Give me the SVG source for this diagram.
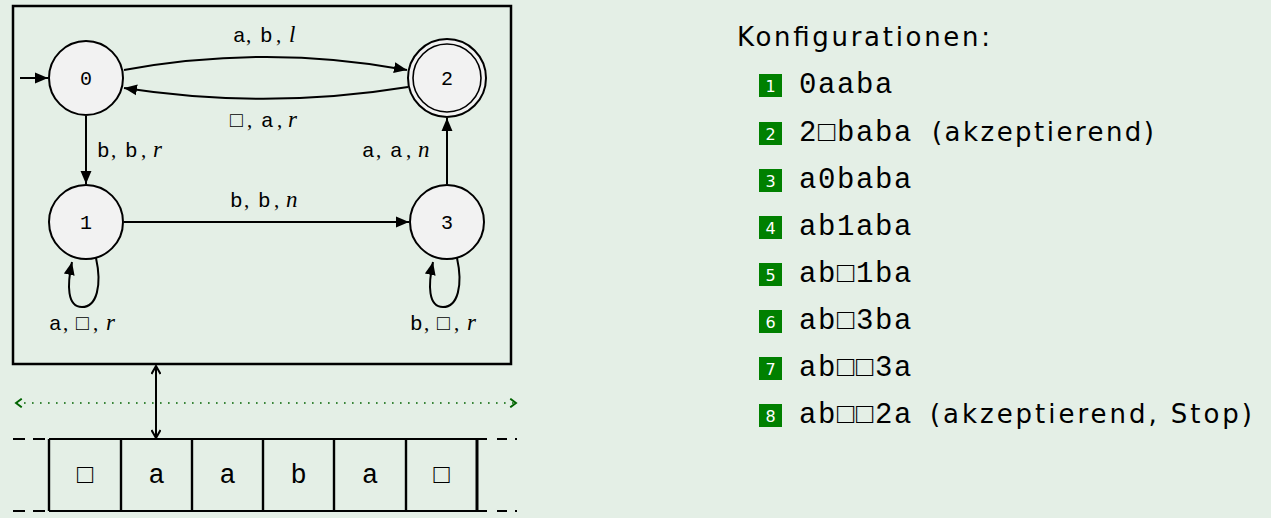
<svg xmlns="http://www.w3.org/2000/svg" width="1271" height="518" viewBox="0 0 1271 518">
<defs>
<style>
.st{fill:#f2f2f2;stroke:#000;stroke-width:2}
.ed{fill:none;stroke:#000;stroke-width:2}
.nl{font-family:"Liberation Mono","DejaVu Sans Mono",monospace;font-size:20px;text-anchor:middle}
.lb{font-family:"Liberation Serif",serif;font-size:21px}
.m{font-family:"Liberation Mono","DejaVu Sans Mono",monospace;font-size:21px}
.mi{font-family:"Liberation Serif",serif;font-style:italic;font-size:23px}
.tp{font-family:"Liberation Mono","DejaVu Sans Mono",monospace;font-size:27px;text-anchor:middle}
.cf{font-family:"Liberation Mono","DejaVu Sans Mono",monospace;font-size:29px;letter-spacing:1.6px}
.sf{font-family:"DejaVu Sans",sans-serif;font-size:26px}
.bn{font-family:"DejaVu Sans",sans-serif;font-size:16px;fill:#fff;text-anchor:middle}
.bl{fill:#008000}
</style>
<marker id="ah" viewBox="0 0 10 10" refX="10" refY="5" markerWidth="6.5" markerHeight="6.5" orient="auto" markerUnits="strokeWidth">
<path d="M0,0.8 L10,5 L0,9.2 Z" fill="#000"/>
</marker>
<marker id="hd" viewBox="0 0 10 10" refX="9" refY="5" markerWidth="5" markerHeight="5" orient="auto-start-reverse" markerUnits="strokeWidth">
<path d="M1,0.5 L9,5 L1,9.5" fill="none" stroke="#000" stroke-width="2"/>
</marker>
<marker id="gh" viewBox="0 0 10 10" refX="8" refY="5" markerWidth="6" markerHeight="6" orient="auto-start-reverse" markerUnits="strokeWidth">
<path d="M2,0.5 L8,5 L2,9.5" fill="none" stroke="#006400" stroke-width="2"/>
</marker>
</defs>
<rect x="0" y="0" width="1271" height="518" fill="#e4efe6"/>
<rect id="machine" x="13" y="6" width="498" height="358" fill="none" stroke="#000" stroke-width="2.5"/>

<g id="connectors">
<line class="ed" x1="20" y1="78" x2="48" y2="78" marker-end="url(#ah)"/>
<path class="ed" d="M124,70 Q267,44 407,70" marker-end="url(#ah)"/>
<path class="ed" d="M408,87 Q267,110 124,88" marker-end="url(#ah)"/>
<line class="ed" x1="86" y1="116" x2="86" y2="184" marker-end="url(#ah)"/>
<line class="ed" x1="447" y1="184" x2="447" y2="118" marker-end="url(#ah)"/>
<line class="ed" x1="124" y1="222" x2="409" y2="222" marker-end="url(#ah)"/>
<path class="ed" d="M96,258 C102,285 97,307 82,307 C67,307 67,285 72,262" marker-end="url(#ah)"/>
<path class="ed" d="M457,258 C463,285 458,307 443,307 C428,307 428,285 433,262" marker-end="url(#ah)"/>
<line x1="156" y1="366" x2="156" y2="438" stroke="#000" stroke-width="2" marker-start="url(#hd)" marker-end="url(#hd)"/>
<line x1="16" y1="403" x2="516" y2="403" stroke="#006400" stroke-width="1.6" stroke-dasharray="1.6 6.4" marker-start="url(#gh)" marker-end="url(#gh)"/>
</g>

<g id="labels" class="lb">
<text y="42"><tspan class="m" x="233">a</tspan><tspan x="246">,</tspan><tspan class="m" x="260">b</tspan><tspan x="276">,</tspan><tspan class="mi" x="289">l</tspan></text>
<text y="127"><tspan class="m" x="230">□</tspan><tspan x="247">,</tspan><tspan class="m" x="261">a</tspan><tspan x="277">,</tspan><tspan class="mi" x="288">r</tspan></text>
<text y="157"><tspan class="m" x="97">b</tspan><tspan x="111">,</tspan><tspan class="m" x="125">b</tspan><tspan x="141">,</tspan><tspan class="mi" x="153">r</tspan></text>
<text y="157"><tspan class="m" x="362">a</tspan><tspan x="376">,</tspan><tspan class="m" x="390">a</tspan><tspan x="406">,</tspan><tspan class="mi" x="418">n</tspan></text>
<text y="207"><tspan class="m" x="230">b</tspan><tspan x="244">,</tspan><tspan class="m" x="258">b</tspan><tspan x="274">,</tspan><tspan class="mi" x="286">n</tspan></text>
<text y="330"><tspan class="m" x="49">a</tspan><tspan x="63">,</tspan><tspan class="m" x="76">□</tspan><tspan x="93">,</tspan><tspan class="mi" x="106">r</tspan></text>
<text y="330"><tspan class="m" x="410">b</tspan><tspan x="424">,</tspan><tspan class="m" x="437">□</tspan><tspan x="454">,</tspan><tspan class="mi" x="467">r</tspan></text>
</g>

<g id="s0"><circle class="st" cx="86" cy="78" r="37"/><text x="86" y="85" class="nl">0</text></g>
<g id="s2"><circle class="st" cx="447" cy="78" r="39"/><circle fill="none" stroke="#000" stroke-width="1.6" cx="447" cy="78" r="34"/><text x="447" y="85" class="nl">2</text></g>
<g id="s1"><circle class="st" cx="86" cy="222" r="37"/><text x="86" y="229" class="nl">1</text></g>
<g id="s3"><circle class="st" cx="447" cy="222" r="37"/><text x="447" y="229" class="nl">3</text></g>

<g id="tape">
<line x1="49" y1="439" x2="487" y2="439" stroke="#000" stroke-width="2"/>
<line x1="49" y1="511" x2="487" y2="511" stroke="#000" stroke-width="2"/>
<line x1="13" y1="439" x2="45" y2="439" stroke="#000" stroke-width="2" stroke-dasharray="12 8"/>
<line x1="13" y1="511" x2="45" y2="511" stroke="#000" stroke-width="2" stroke-dasharray="12 8"/>
<line x1="497" y1="439" x2="517" y2="439" stroke="#000" stroke-width="2" stroke-dasharray="10 8"/>
<line x1="497" y1="511" x2="517" y2="511" stroke="#000" stroke-width="2" stroke-dasharray="10 8"/>
<g stroke="#000" stroke-width="2.4">
<line x1="49" y1="439" x2="49" y2="511"/>
<line x1="121" y1="439" x2="121" y2="511"/>
<line x1="192" y1="439" x2="192" y2="511"/>
<line x1="263" y1="439" x2="263" y2="511"/>
<line x1="334" y1="439" x2="334" y2="511"/>
<line x1="406" y1="439" x2="406" y2="511"/>
<line x1="477" y1="439" x2="477" y2="511" stroke-width="3"/>
</g>
<text x="85" y="483" class="tp">□</text>
<text x="156.5" y="483" class="tp">a</text>
<text x="227.5" y="483" class="tp">a</text>
<text x="298.5" y="483" class="tp">b</text>
<text x="370" y="483" class="tp">a</text>
<text x="441.5" y="483" class="tp">□</text>
</g>

<g id="configs">
<text x="737" y="46" class="sf" textLength="253" lengthAdjust="spacing">Konfigurationen:</text>
<rect class="bl" x="759" y="74" width="23" height="23"/><text x="770.5" y="91.5" class="bn">1</text>
<text x="799" y="93" class="cf">0aaba</text>
<rect class="bl" x="759" y="122" width="23" height="23"/><text x="770.5" y="139.5" class="bn">2</text>
<text x="799" y="141" class="cf">2□baba</text><text x="932" y="141" class="sf" textLength="222" lengthAdjust="spacing">(akzeptierend)</text>
<rect class="bl" x="759" y="169" width="23" height="23"/><text x="770.5" y="186.5" class="bn">3</text>
<text x="799" y="188" class="cf">a0baba</text>
<rect class="bl" x="759" y="216" width="23" height="23"/><text x="770.5" y="233.5" class="bn">4</text>
<text x="799" y="235" class="cf">ab1aba</text>
<rect class="bl" x="759" y="263" width="23" height="23"/><text x="770.5" y="280.5" class="bn">5</text>
<text x="799" y="282" class="cf">ab□1ba</text>
<rect class="bl" x="759" y="310" width="23" height="23"/><text x="770.5" y="327.5" class="bn">6</text>
<text x="799" y="329" class="cf">ab□3ba</text>
<rect class="bl" x="759" y="357" width="23" height="23"/><text x="770.5" y="374.5" class="bn">7</text>
<text x="799" y="376" class="cf">ab□□3a</text>
<rect class="bl" x="759" y="404" width="23" height="23"/><text x="770.5" y="421.5" class="bn">8</text>
<text x="799" y="423" class="cf">ab□□2a</text><text x="930" y="423" class="sf" textLength="322" lengthAdjust="spacing">(akzeptierend, Stop)</text>
</g>
</svg>
